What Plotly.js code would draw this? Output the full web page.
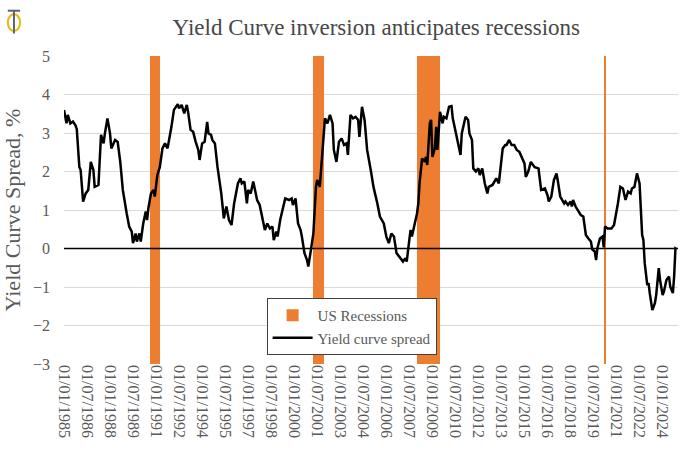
<!DOCTYPE html>
<html>
<head>
<meta charset="utf-8">
<script src="https://cdn.plot.ly/plotly-3.0.1.min.js"></script>
<style>
  html, body { margin: 0; padding: 0; background: #ffffff; }
  #chart { width: 683px; height: 465px; }
</style>
</head>
<body>
<div id="chart"></div>
<script>
// ---- Data ----
var spreadDates = [
  '1985-01','1985-03','1985-04','1985-06','1985-08','1985-10','1985-11','1986-01','1986-02','1986-04',
  '1986-06','1986-08','1986-10','1986-12','1987-01','1987-04','1987-06','1987-08','1987-09','1987-11',
  '1988-01','1988-02','1988-05','1988-07','1988-09','1988-11','1989-02','1989-04','1989-06','1989-07',
  '1989-09','1989-10','1989-12','1990-01','1990-03','1990-05','1990-06','1990-07','1990-09','1990-11',
  '1990-12','1991-02','1991-04','1991-06','1991-08','1991-10','1992-01','1992-03','1992-06','1992-07',
  '1992-09','1992-11','1993-01','1993-02','1993-04','1993-06','1993-08','1993-10','1993-11','1994-01',
  '1994-03','1994-05','1994-06','1994-08','1994-09','1994-11','1995-01','1995-04','1995-06','1995-08',
  '1995-10','1995-12','1996-02','1996-05','1996-07','1996-08','1996-10','1996-12','1997-01','1997-03',
  '1997-05','1997-06','1997-08','1997-10','1997-12','1998-02','1998-04','1998-06','1998-08','1998-09',
  '1998-11','1998-12','1999-02','1999-04','1999-06','1999-09','1999-11','1999-12','2000-02','2000-04',
  '2000-06','2000-07','2000-09','2000-11','2000-12','2001-02','2001-04','2001-06','2001-07','2001-09',
  '2001-11','2002-01','2002-03','2002-05','2002-07','2002-08','2002-10','2002-12','2003-02','2003-04',
  '2003-06','2003-07','2003-09','2003-11','2004-01','2004-03','2004-04','2004-06','2004-08','2004-10',
  '2005-01','2005-03','2005-06','2005-08','2005-11','2006-01','2006-03','2006-05','2006-07','2006-09',
  '2006-12','2007-02','2007-04','2007-05','2007-07','2007-08','2007-09','2007-11','2008-01','2008-02',
  '2008-03','2008-05','2008-07','2008-08','2008-09','2008-11','2008-12','2009-01','2009-03','2009-04',
  '2009-05','2009-07','2009-09','2009-10','2009-12','2010-02','2010-04','2010-05','2010-07','2010-09',
  '2010-11','2010-12','2011-03','2011-05','2011-06','2011-08','2011-09','2011-11','2012-01','2012-02',
  '2012-04','2012-06','2012-08','2012-09','2012-12','2013-03','2013-05','2013-06','2013-08','2013-10',
  '2013-11','2014-01','2014-03','2014-05','2014-07','2014-09','2014-11','2015-01','2015-02','2015-04',
  '2015-06','2015-09','2015-12','2016-02','2016-05','2016-07','2016-08','2016-10','2016-12','2017-02',
  '2017-03','2017-05','2017-08','2017-09','2017-11','2018-01','2018-02','2018-03','2018-05','2018-07',
  '2018-09','2018-11','2019-01','2019-03','2019-05','2019-06','2019-08','2019-09','2019-10','2019-12',
  '2020-02','2020-03','2020-04','2020-06','2020-09','2020-11','2020-12','2021-02','2021-04','2021-06',
  '2021-08','2021-10','2021-12','2022-01','2022-03','2022-05','2022-07','2022-08','2022-09','2022-10',
  '2022-11','2023-01','2023-02','2023-03','2023-04','2023-05','2023-07','2023-08','2023-10','2023-11',
  '2024-01','2024-02','2024-04','2024-06','2024-07','2024-09','2024-10','2024-11','2024-12'
];
var spreadValues = [
  3.60,3.25,3.47,3.25,3.30,3.20,3.10,2.12,2.04,1.22,
  1.43,1.52,2.25,2.04,1.60,1.65,2.95,2.73,2.99,3.38,
  2.99,2.60,2.82,2.77,2.25,1.52,0.91,0.57,0.44,0.14,
  0.39,0.18,0.39,0.18,0.65,0.96,0.74,1.04,1.43,1.52,
  1.35,1.91,2.12,2.60,2.73,2.60,3.16,3.60,3.75,3.64,
  3.73,3.51,3.73,3.55,3.08,3.03,2.77,2.56,2.30,2.73,
  2.77,3.29,2.99,2.95,2.82,2.73,2.12,1.43,0.78,1.09,
  0.74,0.61,1.17,1.69,1.82,1.69,1.74,1.17,1.52,1.43,
  1.74,1.60,1.26,1.13,0.83,0.48,0.65,0.52,0.57,0.22,
  0.44,0.31,0.74,1.00,1.30,1.26,1.30,1.13,1.30,0.65,
  0.48,0.31,-0.12,-0.30,-0.47,-0.04,0.39,1.60,1.78,1.60,
  2.64,3.38,3.25,3.47,3.25,2.56,2.25,2.77,2.86,2.69,
  2.73,2.43,3.47,3.38,3.42,3.34,2.90,3.68,3.34,2.56,
  2.00,1.60,1.17,0.83,0.65,0.31,0.14,0.39,0.31,-0.12,
  -0.25,-0.34,-0.25,-0.34,0.22,0.48,0.31,0.61,0.91,1.17,
  1.69,2.34,2.25,2.38,2.17,3.25,3.34,2.38,2.60,3.16,
  2.56,3.55,3.25,3.42,3.38,3.68,3.70,3.38,3.08,2.73,
  2.43,2.99,3.42,3.34,2.99,2.82,2.08,2.00,2.08,1.91,
  2.08,1.69,1.43,1.60,1.65,1.82,1.69,2.00,2.60,2.69,
  2.69,2.82,2.69,2.69,2.56,2.51,2.38,2.21,1.86,2.00,
  2.25,2.11,2.08,1.52,1.56,1.39,1.22,1.35,1.78,1.95,
  1.78,1.35,1.17,1.22,1.13,1.22,1.09,1.26,1.09,0.96,
  0.87,0.83,0.35,0.26,0.18,-0.02,-0.08,-0.30,0.00,0.26,
  0.31,0.03,0.57,0.52,0.52,0.61,0.78,1.17,1.60,1.56,
  1.26,1.48,1.43,1.56,1.60,1.95,1.69,1.00,0.35,0.22,
  -0.38,-0.95,-0.90,-1.16,-1.42,-1.60,-1.42,-1.21,-0.51,-0.82,
  -1.21,-1.12,-0.82,-0.73,-0.99,-1.16,-0.73,0.00,-0.02
];
var recessionStarts = ['1990-08-01','2001-04-01','2008-01-01','2020-03-01'];
var recessionEnds   = ['1991-04-01','2001-12-01','2009-07-01','2020-05-01'];
var yMin = -3, yMax = 5;
var tickLabels = [
  '01/01/1985','01/07/1986','01/01/1988','01/07/1989','01/01/1991','01/07/1992','01/01/1994',
  '01/07/1995','01/01/1997','01/07/1998','01/01/2000','01/07/2001','01/01/2003','01/07/2004',
  '01/01/2006','01/07/2007','01/01/2009','01/07/2010','01/01/2012','01/07/2013','01/01/2015',
  '01/07/2016','01/01/2018','01/07/2019','01/01/2021','01/07/2022','01/01/2024'
];

// ---- Derived for the library ----
function toIso(lbl) { var p = lbl.split('/'); return p[2] + '-' + p[1] + '-' + p[0]; }
var tickVals = tickLabels.map(toIso);
var recMid = [], recWidth = [], recBase = [], recHeight = [];
for (var i = 0; i < recessionStarts.length; i++) {
  var a = new Date(recessionStarts[i] + 'T00:00:00Z').getTime();
  var b = new Date(recessionEnds[i] + 'T00:00:00Z').getTime();
  recMid.push(new Date((a + b) / 2).toISOString());
  recWidth.push(b - a);
  recBase.push(yMin);
  recHeight.push(yMax - yMin);
}

var serif = '"Liberation Serif", "DejaVu Serif", serif';
var grey = '#595959';

var traces = [
  {
    type: 'bar', name: 'US Recessions',
    x: recMid, y: recHeight, base: recBase, width: recWidth,
    marker: { color: '#ED7D31', line: { width: 0 } },
    hoverinfo: 'skip'
  },
  {
    type: 'scatter', mode: 'lines', name: 'Yield curve spread',
    x: spreadDates, y: spreadValues,
    line: { color: '#000000', width: 2.5 }
  }
];

var layout = {
  width: 683, height: 465,
  margin: { l: 64, r: 5, t: 56, b: 101 },
  paper_bgcolor: '#ffffff', plot_bgcolor: '#ffffff',
  font: { family: serif, color: grey },
  showlegend: true,
  title: {
    text: 'Yield Curve inversion anticipates recessions',
    font: { family: serif, size: 23, color: '#474747' },
    x: 0.551, xanchor: 'center', y: 0.943, yanchor: 'middle'
  },
  xaxis: {
    type: 'date',
    range: ['1985-01-01', '2025-01-01'],
    tickmode: 'array', tickvals: tickVals, ticktext: tickLabels,
    tickangle: 90,
    tickfont: { family: serif, size: 16, color: grey },
    showgrid: false, zeroline: false, showline: false, ticks: ''
  },
  yaxis: {
    range: [yMin, yMax], dtick: 1, tick0: 0,
    gridcolor: '#d9d9d9', gridwidth: 1,
    zeroline: false, showline: false, ticks: '',
    ticklabelstandoff: 13,
    tickfont: { family: serif, size: 16, color: grey },
    title: { text: 'Yield Curve Spread, %', font: { family: serif, size: 22, color: grey }, standoff: 8 }
  },
  legend: {
    x: 0.33, xanchor: 'left', y: 0.214, yanchor: 'top',
    bgcolor: '#ffffff', bordercolor: '#404040', borderwidth: 1,
    font: { family: serif, size: 15, color: grey },
    traceorder: 'normal', itemwidth: 40
  },
  bargap: 0,
  shapes: [
    { type: 'line', xref: 'paper', x0: 0, x1: 1, yref: 'y', y0: 0, y1: 0,
      line: { color: '#000000', width: 1.5 }, layer: 'above' },
    // logo: gold ring with grey T
    { type: 'circle', xref: 'paper', yref: 'paper', x0: -0.0915, x1: -0.0715, y0: 1.081, y1: 1.136,
      line: { color: '#E8B923', width: 2.2 }, fillcolor: 'rgba(0,0,0,0)' },
    { type: 'line', xref: 'paper', yref: 'paper', x0: -0.0915, x1: -0.0715, y0: 1.147, y1: 1.147,
      line: { color: '#5b6470', width: 2 } },
    { type: 'line', xref: 'paper', yref: 'paper', x0: -0.0815, x1: -0.0815, y0: 1.147, y1: 1.073,
      line: { color: '#5b6470', width: 2 } }
  ]
};

Plotly.newPlot('chart', traces, layout, { displayModeBar: false, staticPlot: true });
</script>
</body>
</html>
